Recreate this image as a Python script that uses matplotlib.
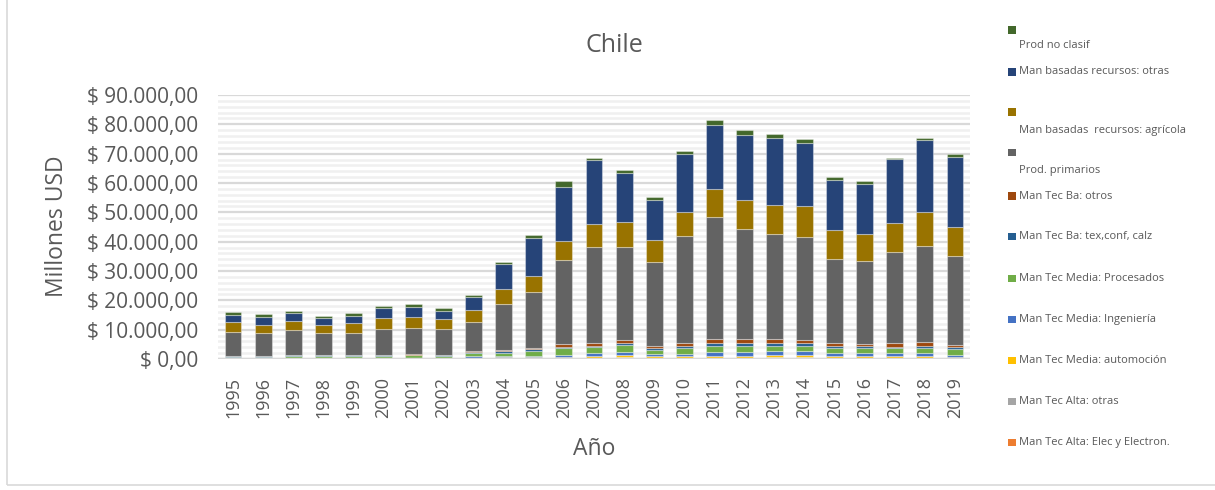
import matplotlib.pyplot as plt
import matplotlib.patches as mpatches
from matplotlib.ticker import FuncFormatter, MultipleLocator
import numpy as np

plt.rcParams['font.family'] = ['Open Sans', 'DejaVu Sans']

years = [str(y) for y in range(1995, 2020)]

# stacked from bottom to top (Millones USD)
elec = [40, 40, 40, 40, 40, 40, 50, 50, 110, 130, 120, 150, 140, 180, 150, 150,
        190, 190, 200, 230, 140, 140, 140, 140, 130]
alta_otras = [100, 80, 100, 100, 100, 100, 120, 100, 200, 220, 170, 250, 250, 550, 300, 300,
              300, 300, 430, 600, 250, 250, 250, 250, 220]
automocion = [40, 40, 50, 50, 50, 50, 60, 60, 150, 200, 300, 450, 800, 800, 500, 500,
              700, 700, 900, 700, 800, 800, 800, 800, 500]
ingenieria = [150, 150, 200, 200, 220, 200, 250, 230, 500, 600, 600, 680, 790, 790, 820, 820,
              1130, 1130, 1130, 1130, 790, 790, 790, 790, 680]
procesados = [450, 450, 550, 550, 550, 580, 750, 650, 920, 1030, 1610, 2150, 2040, 2520, 1370, 2050,
              2280, 2280, 1940, 1940, 1840, 1600, 1600, 1840, 1810]
tex_conf = [250, 250, 270, 270, 250, 250, 300, 250, 340, 480, 440, 580, 580, 550, 540, 680,
            790, 790, 790, 790, 680, 790, 680, 680, 680]
ba_otros = [160, 180, 220, 220, 220, 210, 240, 190, 340, 480, 580, 920, 790, 920, 920, 890,
            1500, 1500, 1500, 1160, 890, 810, 1130, 1130, 920]
primarios = [7850, 7610, 8530, 7370, 7500, 8730, 8730, 8530, 9990, 15680, 18960, 28650, 32730, 31810, 28410, 36620,
             41460, 37510, 35560, 34980, 28780, 28170, 31030, 32970, 30120]
agricola = [3510, 2960, 2830, 2960, 3410, 3750, 3890, 3510, 4230, 5120, 5590, 6240, 7740, 8530, 7400, 8190,
            9700, 9650, 9890, 10470, 9890, 9340, 9890, 11360, 9880]
rec_otras = [2520, 2630, 2830, 2150, 2390, 3410, 3270, 2870, 4300, 8390, 12820, 18510, 21830, 16710, 13880, 19770,
             21800, 22150, 22850, 21590, 17040, 17050, 21720, 24550, 23870]
no_clasif = [790, 790, 820, 690, 890, 820, 920, 1020, 570, 580, 920, 1950, 780, 920, 1020, 1030,
             1700, 1700, 1470, 1500, 900, 890, 570, 920, 930]

series = [
    ("Man Tec Alta: Elec y Electron.", elec, "#ED7D31"),
    ("Man Tec Alta: otras", alta_otras, "#A5A5A5"),
    ("Man Tec Media: automoción", automocion, "#FFC000"),
    ("Man Tec Media: Ingeniería", ingenieria, "#4472C4"),
    ("Man Tec Media: Procesados", procesados, "#70AD47"),
    ("Man Tec Ba: tex,conf, calz", tex_conf, "#255E91"),
    ("Man Tec Ba: otros", ba_otros, "#9E480E"),
    ("Prod. primarios", primarios, "#636363"),
    ("Man basadas  recursos: agrícola", agricola, "#997300"),
    ("Man basadas recursos: otras", rec_otras, "#264478"),
    ("Prod no clasif", no_clasif, "#43682B"),
]

W, H = 1215, 490
grey = '#595959'
fig = plt.figure(figsize=(W / 100, H / 100), dpi=100)
ax = fig.add_axes([218 / W, 1 - 359 / H, (970 - 218) / W, (359 - 95) / H])

x = np.arange(len(years))
bottom = np.zeros(len(years))
for name, vals, col in series:
    ax.bar(x, vals, 0.56, bottom=bottom, color=col, edgecolor=(1, 1, 1, 0.35),
           linewidth=0.8, zorder=3)
    bottom += np.array(vals)

ax.set_xlim(-0.5, len(years) - 0.5)
ax.set_ylim(0, 90000)
ax.yaxis.set_major_locator(MultipleLocator(10000))
ax.yaxis.set_minor_locator(MultipleLocator(2000))
ax.grid(which='major', axis='y', color='#d9d9d9', linewidth=1.6, zorder=0)
ax.grid(which='minor', axis='y', color='#f0f0f0', linewidth=1.8, zorder=0)
ax.axhline(0, color='#d9d9d9', linewidth=2.5, zorder=4)
for s in ax.spines.values():
    s.set_visible(False)


def money(v, pos):
    s = f"{v:,.2f}".replace(",", "X").replace(".", ",").replace("X", ".")
    return "$ " + s


ax.yaxis.set_major_formatter(FuncFormatter(money))
ax.set_xticks(x)
ax.set_xticklabels(years, rotation=90)
ax.tick_params(axis='both', which='both', length=0, colors=grey)
ax.tick_params(axis='y', labelsize=15, pad=14)
ax.tick_params(axis='x', labelsize=13, pad=13)

fig.text(57 / W, 1 - 226 / H, "Millones USD", fontsize=16.5, color=grey,
         rotation=90, ha='center', va='center')
fig.text(594 / W, 1 - 449 / H, "Año", fontsize=16.5, color=grey, ha='center', va='center')
fig.text(614 / W, 1 - 45 / H, "Chile", fontsize=18, color=grey, ha='center', va='center')

# legend (top to bottom, some labels wrapped below their key)
slots = [(30, 45), (72, 72), (112, 130), (152, 170), (196, 196), (236, 236),
         (278, 278), (319, 319), (360, 360), (401, 401), (442, 442)]
for (name, vals, col), (ym, yt) in zip(series[::-1], slots):
    fig.add_artist(mpatches.Rectangle((1008 / W, 1 - (ym + 4) / H), 7.5 / W, 7.5 / H,
                                      facecolor=col, edgecolor='none',
                                      transform=fig.transFigure))
    fig.text(1019 / W, 1 - yt / H, name, fontsize=8, color=grey, va='center', ha='left')

# outer chart frame
fig.add_artist(mpatches.Rectangle((7 / W, 1 - 485 / H), 1.2, 1.2, fill=False,
                                  edgecolor='#d9d9d9', linewidth=1.2,
                                  transform=fig.transFigure))

fig.savefig("out.png", dpi=100)
